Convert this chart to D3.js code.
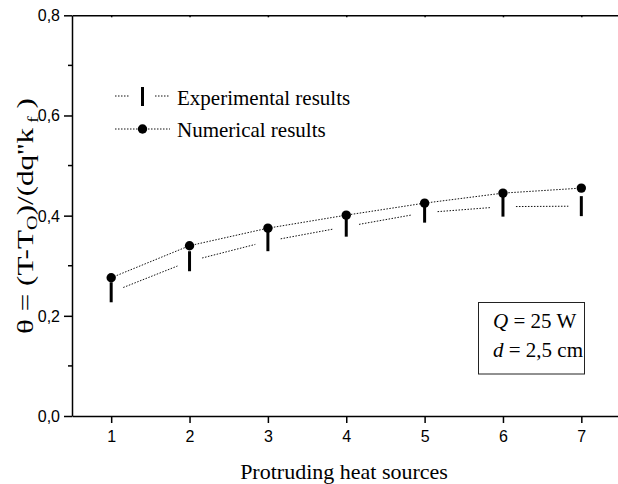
<!DOCTYPE html>
<html>
<head>
<meta charset="utf-8">
<script src="https://cdn.jsdelivr.net/npm/d3@7"></script>
<style>
  html, body { margin: 0; padding: 0; background: #fff; }
  svg { display: block; }
  .serif { font-family: "Liberation Serif", "Times New Roman", serif; }
  .sans { font-family: "Liberation Sans", Arial, sans-serif; }
</style>
</head>
<body>
<div id="chart"></div>
<script>
// protruding heat sources, theta values
const sources = [1, 2, 3, 4, 5, 6, 7];
const experimental = [0.247, 0.309, 0.349, 0.378, 0.406, 0.418, 0.419];
const numerical = [0.276, 0.340, 0.375, 0.401, 0.425, 0.445, 0.455];
const xTicks = [1, 2, 3, 4, 5, 6, 7];
const yTicks = [0, 0.2, 0.4, 0.6, 0.8];
const yMinorTicks = [0.1, 0.3, 0.5, 0.7];

const W = 618, H = 484;
const svg = d3.select('#chart').append('svg')
    .attr('width', W)
    .attr('height', H);

const x = d3.scaleLinear().domain([0.5, 7.5]).range([72, 620.5]);
const y = d3.scaleLinear().domain([0, 0.8]).range([416, 15.3]);

const fmt = v => d3.format('.1f')(v).replace('.', ',');

// bottom axis
const gx = svg.append('g')
    .attr('transform', `translate(0,${y(0)})`)
    .call(d3.axisBottom(x).tickValues(xTicks).tickSize(7).tickSizeOuter(0).tickFormat(d3.format('d')));
gx.selectAll('text')
    .attr('class', 'sans')
    .attr('y', 26).attr('dy', 0)
    .style('font-size', '16px').attr('fill', '#000');

// top frame line with small inward ticks
svg.append('g')
    .attr('transform', `translate(0,${y(0.8)})`)
    .call(d3.axisTop(x).tickValues(xTicks).tickSize(-2).tickSizeOuter(0).tickFormat(''));

// left axis
const gy = svg.append('g')
    .attr('transform', `translate(${x(0.5)},0)`)
    .call(d3.axisLeft(y).tickValues(yTicks).tickSize(8).tickSizeOuter(0).tickFormat(fmt));
gy.selectAll('text')
    .attr('class', 'sans')
    .attr('x', -12).attr('dy', '0.34em')
    .style('font-size', '16px').attr('fill', '#000');
gy.selectAll('.minor')
    .data(yMinorTicks)
    .enter().append('line')
    .attr('class', 'minor')
    .attr('x1', -4).attr('x2', 0)
    .attr('y1', d => y(d)).attr('y2', d => y(d))
    .attr('stroke', '#000');

svg.selectAll('.domain, .tick line, .minor')
    .attr('stroke', '#000')
    .attr('stroke-width', 1.5);

// numerical results: dotted line through the points
const pts = sources.map((s, i) => ({ s, e: experimental[i], n: numerical[i] }));

svg.append('path')
    .datum(pts)
    .attr('fill', 'none')
    .attr('stroke', '#111')
    .attr('stroke-width', 1)
    .attr('stroke-dasharray', '1.5,1.5')
    .attr('d', d3.line().x(d => x(d.s)).y(d => y(d.n)));

// experimental results: dotted segments with gaps around the bar symbols
const gap = 13;
const segs = d3.pairs(pts).map(([a, b]) => {
    const x1 = x(a.s), y1 = y(a.e), x2 = x(b.s), y2 = y(b.e);
    const len = Math.hypot(x2 - x1, y2 - y1);
    const ux = (x2 - x1) / len, uy = (y2 - y1) / len;
    return { x1: x1 + ux * gap, y1: y1 + uy * gap, x2: x2 - ux * gap, y2: y2 - uy * gap };
});
svg.selectAll('line.expseg')
    .data(segs)
    .enter().append('line')
    .attr('class', 'expseg')
    .attr('x1', d => d.x1).attr('y1', d => d.y1)
    .attr('x2', d => d.x2).attr('y2', d => d.y2)
    .attr('stroke', '#111')
    .attr('stroke-width', 1)
    .attr('stroke-dasharray', '1.5,1.5');

svg.selectAll('line.expbar')
    .data(pts)
    .enter().append('line')
    .attr('class', 'expbar')
    .attr('x1', d => x(d.s)).attr('x2', d => x(d.s))
    .attr('y1', d => y(d.e) - 10).attr('y2', d => y(d.e) + 10)
    .attr('stroke', '#000')
    .attr('stroke-width', 3);

svg.selectAll('circle.num')
    .data(pts)
    .enter().append('circle')
    .attr('class', 'num')
    .attr('cx', d => x(d.s)).attr('cy', d => y(d.n))
    .attr('r', 4.7)
    .attr('fill', '#000');

// legend
const leg = svg.append('g');
[[115, 130], [155, 170]].forEach(([a, b]) => {
    leg.append('line').attr('x1', a).attr('x2', b).attr('y1', 96).attr('y2', 96)
        .attr('stroke', '#111').attr('stroke-width', 1).attr('stroke-dasharray', '1.5,1.5');
});
leg.append('line').attr('x1', 142.5).attr('x2', 142.5).attr('y1', 87).attr('y2', 106)
    .attr('stroke', '#000').attr('stroke-width', 3);
leg.append('line').attr('x1', 115).attr('x2', 170).attr('y1', 129).attr('y2', 129)
    .attr('stroke', '#111').attr('stroke-width', 1).attr('stroke-dasharray', '1.5,1.5');
leg.append('circle').attr('cx', 142.5).attr('cy', 129).attr('r', 4.7).attr('fill', '#000');
leg.append('text').attr('class', 'serif').attr('x', 177).attr('y', 105)
    .style('font-size', '21px').text('Experimental results');
leg.append('text').attr('class', 'serif').attr('x', 177).attr('y', 137)
    .style('font-size', '21px').text('Numerical results');

// parameter box
svg.append('rect')
    .attr('x', 478.5).attr('y', 302.5).attr('width', 106).attr('height', 71.5)
    .attr('fill', 'none').attr('stroke', '#222').attr('stroke-width', 1);
const t1 = svg.append('text').attr('class', 'serif').attr('x', 493).attr('y', 328).style('font-size', '21px');
t1.append('tspan').style('font-style', 'italic').text('Q');
t1.append('tspan').text(' = 25 W');
const t2 = svg.append('text').attr('class', 'serif').attr('x', 493).attr('y', 357).style('font-size', '21px');
t2.append('tspan').style('font-style', 'italic').text('d');
t2.append('tspan').text(' = 2,5 cm');

// axis titles
svg.append('text').attr('class', 'serif')
    .attr('x', 344).attr('y', 479)
    .attr('text-anchor', 'middle')
    .style('font-size', '22px')
    .text('Protruding heat sources');

const yt = svg.append('text').attr('class', 'serif')
    .attr('transform', 'translate(33,216) rotate(-90)')
    .attr('text-anchor', 'middle')
    .attr('textLength', 236)
    .attr('lengthAdjust', 'spacingAndGlyphs')
    .style('font-size', '23px');
yt.append('tspan').text('\u03b8 = (T-T');
yt.append('tspan').attr('baseline-shift', '-25%').style('font-size', '15px').text('O');
yt.append('tspan').text(')/(dq\'\'k');
yt.append('tspan').attr('baseline-shift', '-30%').style('font-size', '15px').text(' f');
yt.append('tspan').text(' )');
</script>
</body>
</html>
